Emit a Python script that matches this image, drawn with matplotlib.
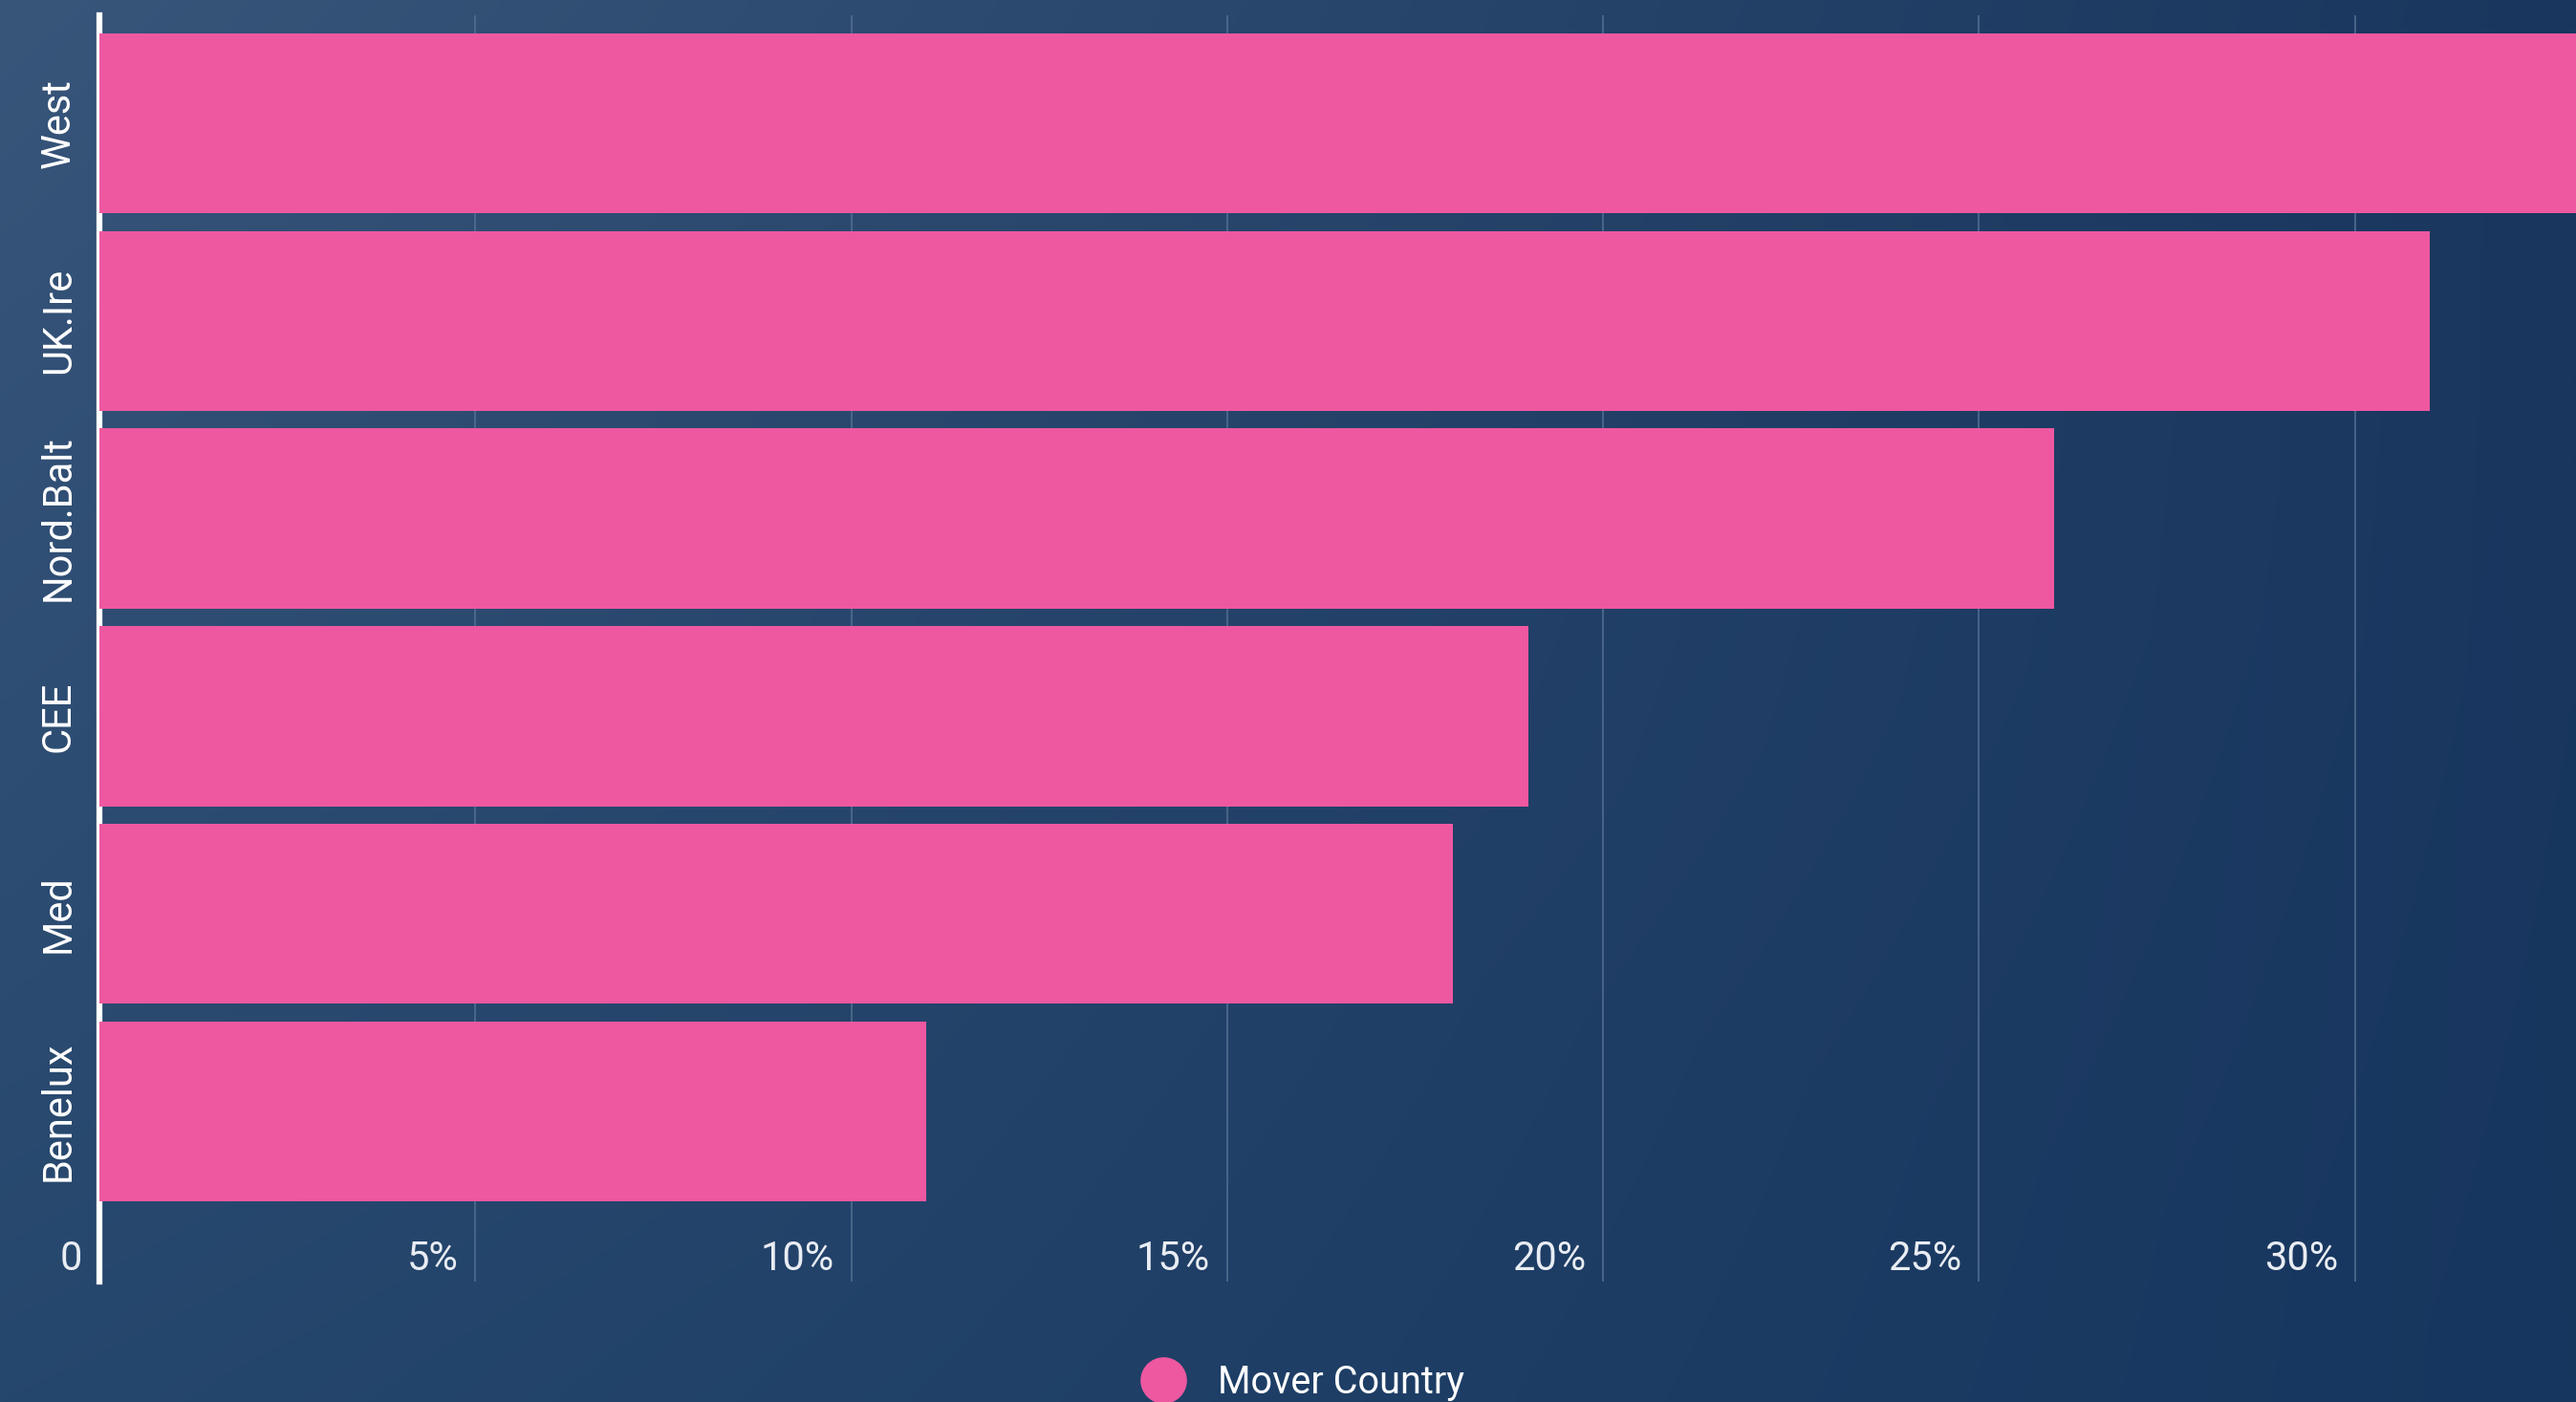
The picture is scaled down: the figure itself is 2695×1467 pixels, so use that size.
import numpy as np
import matplotlib
matplotlib.use("Agg")
import matplotlib.pyplot as plt
from matplotlib.lines import Line2D
from matplotlib.transforms import ScaledTranslation

plt.rcParams['font.family'] = ['Roboto', 'DejaVu Sans']

# data (share of movers, %)
regions = ['West', 'UK.Ire', 'Nord.Balt', 'CEE', 'Med', 'Benelux']
shares = [34.0, 31.0, 26.0, 19.0, 18.0, 11.0]
tick_vals = [0, 5, 10, 15, 20, 25, 30]
tick_labels = ['0', '5%', '10%', '15%', '20%', '25%', '30%']
series_name = 'Mover Country'

pink = '#ee58a0'
W, H, DPI = 2695, 1467, 100

fig = plt.figure(figsize=(W / DPI, H / DPI), dpi=DPI)

# background gradient (bilinear between corner colours)
bg = fig.add_axes([0, 0, 1, 1], zorder=-10)
tl = np.array([56, 85, 122]) / 255
tr = np.array([25, 54, 94]) / 255
bl = np.array([38, 71, 109]) / 255
br = np.array([23, 54, 95]) / 255
u = np.linspace(0, 1, 400)[None, :, None]
v = np.linspace(0, 1, 220)[:, None, None]
grad = (1 - v) * ((1 - u) * tl + u * tr) + v * ((1 - u) * bl + u * br)
bg.imshow(grad, aspect='auto', extent=[0, 1, 0, 1], interpolation='bilinear')
bg.axis('off')

ax = fig.add_axes([104 / W, 1 - 1341 / H, 1 - 104 / W, 1325 / H])
ax.set_facecolor('none')

y = np.arange(len(regions))[::-1]
ax.barh(y, shares, height=0.91, color=pink, zorder=3)

ax.set_xlim(0, (W - 104) / 78.66)
ax.set_ylim(-0.86, 5.546)

ax.set_axisbelow(True)
ax.xaxis.grid(True, color='#506c8e', linewidth=1.2)
ax.yaxis.grid(False)

for s in ['top', 'right', 'bottom']:
    ax.spines[s].set_visible(False)
ax.spines['left'].set_color('white')
ax.spines['left'].set_linewidth(4.5)

ax.set_xticks(tick_vals)
ax.set_xticklabels(tick_labels, ha='right', color='#e9edf3', fontsize=30)
ax.tick_params(axis='x', length=0, pad=-32)
shift = ScaledTranslation(-18 / DPI, 0, fig.dpi_scale_trans)
for lab in ax.get_xticklabels():
    lab.set_transform(lab.get_transform() + shift)

ax.set_yticks(y)
ax.set_yticklabels(regions, rotation=90, va='center', color='white', fontsize=30)
ax.tick_params(axis='y', length=0, pad=16)

handle = Line2D([], [], marker='o', linestyle='', color=pink, markersize=34)
fig.legend([handle], [series_name], loc='center', bbox_to_anchor=(0.5055, 0.014),
           frameon=False, fontsize=28.5, labelcolor='white',
           handlelength=1.25, handletextpad=0.8)

fig.savefig('out.png', dpi=DPI)
